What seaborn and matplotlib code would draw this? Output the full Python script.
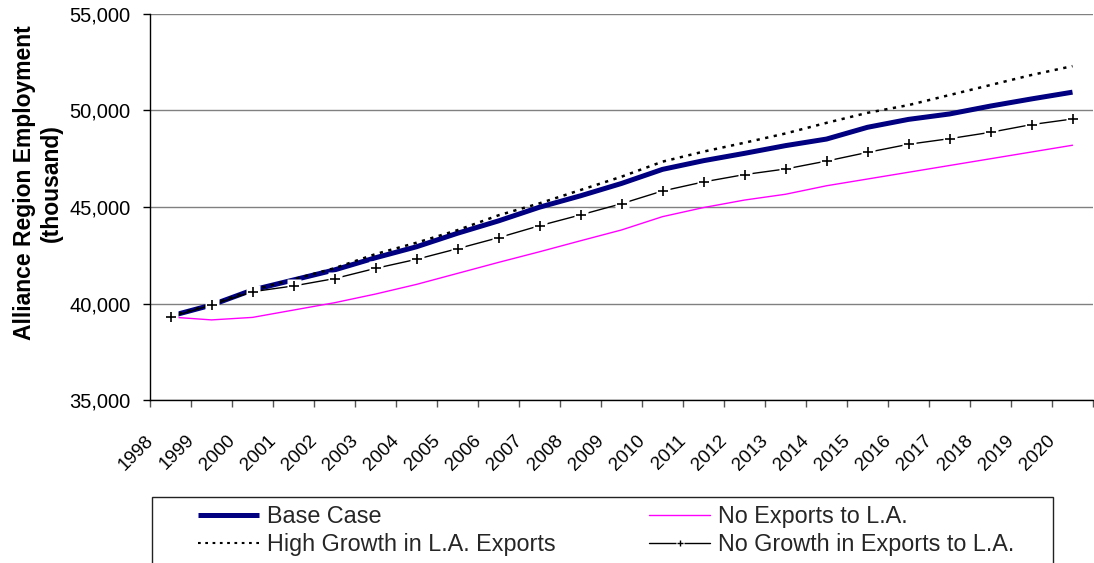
import numpy as np
import pandas as pd
import matplotlib
matplotlib.use("Agg")
import matplotlib.pyplot as plt
from matplotlib.lines import Line2D
from matplotlib.patches import Rectangle
from matplotlib.ticker import FixedLocator, FuncFormatter, NullFormatter
import matplotlib.transforms as mtransforms
import seaborn as sns

# Employment projections (thousand) by scenario
years = list(range(1998, 2021))
base_case = [39350, 39920, 40700, 41220, 41740, 42370, 42940, 43640, 44280, 44990,
             45580, 46220, 46950, 47400, 47780, 48180, 48520, 49130, 49540, 49820,
             50230, 50600, 50950]
high_growth = [39350, 39950, 40700, 41250, 41830, 42560, 43150, 43800, 44570, 45190,
               45880, 46570, 47350, 47870, 48330, 48810, 49360, 49880, 50280, 50800,
               51320, 51840, 52300]
no_exports = [39300, 39150, 39280, 39660, 40040, 40490, 40990, 41560, 42130, 42680,
              43250, 43810, 44500, 44970, 45360, 45660, 46100, 46450, 46800, 47150,
              47500, 47850, 48200]
no_growth = [39300, 39920, 40610, 40910, 41290, 41820, 42290, 42840, 43410, 44030,
             44590, 45170, 45830, 46300, 46680, 46970, 47380, 47830, 48250, 48540,
             48870, 49270, 49560]
series_names = ["Base Case", "High Growth in L.A. Exports",
                "No Exports to L.A.", "No Growth in Exports to L.A."]
y_ticks = [35000, 40000, 45000, 50000, 55000]

df = pd.DataFrame({"year": years, "base": base_case, "high": high_growth,
                   "noexp": no_exports, "nogrowth": no_growth})

sns.set_theme(style="white")
plt.rcParams["font.family"] = ["Liberation Sans", "DejaVu Sans"]

W, H = 1094, 563
fig = plt.figure(figsize=(W / 100, H / 100), dpi=100)
ax = fig.add_axes([150 / W, 1 - 400 / H, (1093 - 150) / W, (400 - 14) / H])

NAVY = "#000080"
PINK = "#FF00FF"
DOTS = (0, (1.3, 2.2))

sns.lineplot(data=df, x="year", y="noexp", ax=ax, color=PINK, lw=1.0, zorder=2)
sns.lineplot(data=df, x="year", y="base", ax=ax, color=NAVY, lw=3.6, zorder=3,
             solid_capstyle="butt")
sns.lineplot(data=df, x="year", y="high", ax=ax, color="black", lw=1.8, zorder=4,
             linestyle=DOTS)
sns.lineplot(data=df, x="year", y="nogrowth", ax=ax, color="black", lw=1.0, zorder=5)
# markers sit on a white patch that interrupts lines and gridlines beneath them
ax.plot(df["year"], df["nogrowth"], linestyle="none", marker="s", ms=10.5,
        mfc="white", mec="none", zorder=6)
ax.plot(df["year"], df["nogrowth"], linestyle="none", marker="+", ms=6.5,
        mec="black", mew=1.2, zorder=7)

ax.set_xlim(1997.5, 2020.5)
ax.set_ylim(35000, 55000)
ax.set_xlabel("")
ax.set_ylabel("")

# category boundaries carry tick marks, category centres carry labels
ax.xaxis.set_major_locator(FixedLocator([y - 0.5 for y in years] + [years[-1] + 0.5]))
ax.xaxis.set_major_formatter(NullFormatter())
ax.xaxis.set_minor_locator(FixedLocator(years))
ax.xaxis.set_minor_formatter(FuncFormatter(lambda v, p: f"{int(round(v))}"))
ax.tick_params(axis="x", which="major", direction="out", length=5, width=1,
               color="#555555", bottom=True)
ax.tick_params(axis="x", which="minor", length=0, pad=23, labelsize=13.5,
               labelcolor="black", bottom=True)
offset = mtransforms.ScaledTranslation(-14 / 100, 0, fig.dpi_scale_trans)
for lbl in ax.xaxis.get_minorticklabels():
    lbl.set_rotation(45)
    lbl.set_ha("right")
    lbl.set_va("top")
    lbl.set_transform(lbl.get_transform() + offset)

ax.set_yticks(y_ticks)
ax.yaxis.set_major_formatter(FuncFormatter(lambda v, p: f"{int(v):,}"))
ax.tick_params(axis="y", direction="out", length=5, width=1, color="black",
               pad=9, labelsize=14.5, labelcolor="black", left=True)

ax.grid(axis="y", color="#808080", lw=1.0)
ax.grid(axis="x", visible=False)
ax.set_axisbelow(True)
for side in ("top", "right"):
    ax.spines[side].set_visible(False)
for side in ("left", "bottom"):
    ax.spines[side].set_color("black")
    ax.spines[side].set_linewidth(1.0)

fig.text(38 / W, 1 - 183 / H, "Alliance Region Employment\n(thousand)",
         rotation=90, ha="center", va="center", multialignment="center",
         fontsize=16.5, fontweight="bold", color="black")

# legend box runs off the bottom edge of the figure
fig.patches.append(Rectangle((152 / W, -0.1), (1053 - 152) / W, (1 - 497 / H) + 0.1,
                             transform=fig.transFigure, fill=False,
                             edgecolor="#222222", lw=1.0, zorder=1))

h_base = Line2D([], [], color=NAVY, lw=3.6, solid_capstyle="butt")
h_high = Line2D([], [], color="black", lw=1.5, linestyle=DOTS)
h_noexp = Line2D([], [], color=PINK, lw=1.0)
h_ng_line = Line2D([], [], color="black", lw=1.0)
h_ng_bg = Line2D([], [], linestyle="none", marker="s", ms=6, mfc="white", mec="none")
h_ng_plus = Line2D([], [], linestyle="none", marker="+", ms=5, mec="black", mew=1.0)
fig.legend([h_base, h_high, h_noexp, (h_ng_line, h_ng_bg, h_ng_plus)],
           series_names, ncol=2, loc="upper left",
           bbox_to_anchor=(198 / W, 1 - 505 / H), bbox_transform=fig.transFigure,
           frameon=False, borderpad=0, borderaxespad=0, fontsize=16.8,
           handlelength=2.6, handletextpad=0.35, columnspacing=4.03,
           labelspacing=0.2, numpoints=1)

fig.savefig("out.png", dpi=100)
